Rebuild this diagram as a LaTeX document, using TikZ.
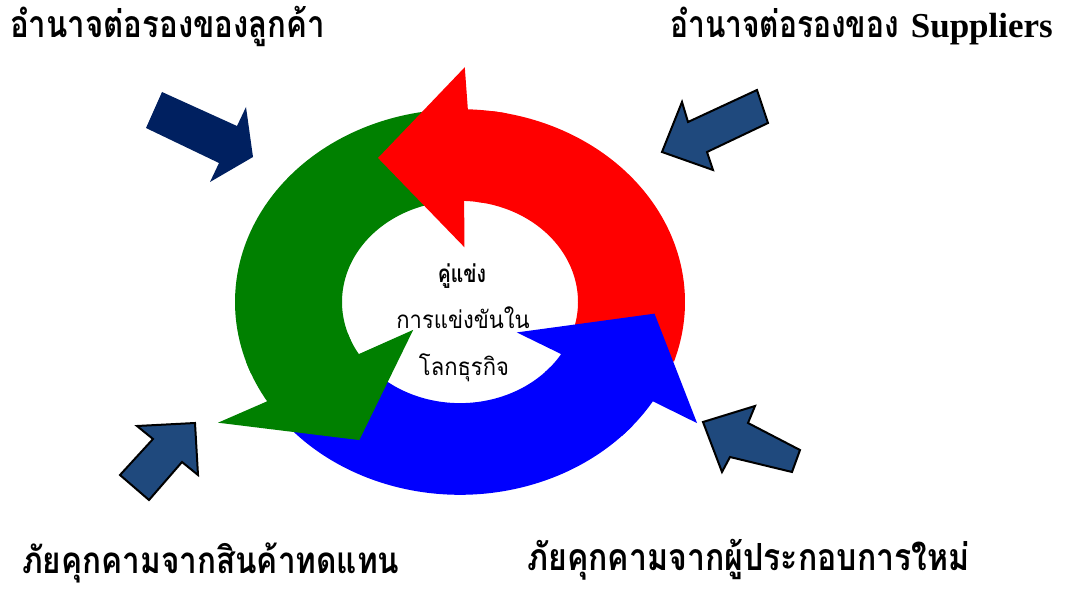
\documentclass[tikz,border=0pt]{standalone}
\usepackage{graphicx}
\usepackage{fontspec}
\newfontfamily\thaifont[Script=Thai]{Loma}
\newfontfamily\latserif{Liberation Serif}
\definecolor{navyc}{HTML}{002060}
\definecolor{sidec}{HTML}{1F497D}
\definecolor{redc}{HTML}{FF0000}
\definecolor{greenc}{HTML}{008000}
\definecolor{bluec}{HTML}{0000FF}
\newcommand\ringbody[3]{%
  \fill[#1] plot[domain=#2:#3,samples=80] ({225*cos(\x)},{225*sin(\x)})
    -- plot[domain=#3:#2,samples=80] ({118*cos(\x)},{118*sin(\x)}) -- cycle;}
\tikzset{
  sidearrow/.style={fill=sidec, draw=black, line width=2pt, line join=miter},
  navyarrow/.style={fill=navyc},
  biglabel/.style={inner sep=0pt, font=\thaifont\bfseries\fontsize{34}{34}\selectfont},
  midlabel/.style={inner sep=0pt, font=\thaifont\fontsize{22}{22}\selectfont},
}
\begin{document}
\begin{tikzpicture}[x=1pt,y=-1pt]
\useasboundingbox (0,0) rectangle (1065,591);
\fill[white] (0,0) rectangle (1065,591);
\begin{scope}[shift={(460,302)}, yscale=-0.857]
  % bodies
  \ringbody{redc}{-18}{82}
  \ringbody{greenc}{97}{202}
  \ringbody{bluec}{220}{320}
  % heads
  \fill[redc] plot[domain=78:88,samples=10] ({225*cos(\x)},{225*sin(\x)})
     -- (89:274) -- (116:187) -- (86:64) -- (88:118)
     -- plot[domain=88:78,samples=10] ({118*cos(\x)},{118*sin(\x)}) -- cycle;
  \fill[greenc] plot[domain=198:211,samples=10] ({225*cos(\x)},{225*sin(\x)})
     -- (210.2:280) -- (238:190) -- (214.8:57) -- (211:118)
     -- plot[domain=211:198,samples=10] ({118*cos(\x)},{118*sin(\x)}) -- cycle;
  \fill[bluec] plot[domain=316:329,samples=10] ({225*cos(\x)},{225*sin(\x)})
     -- (329.2:276) -- (356:195) -- (328:67) -- (329:118)
     -- plot[domain=329:316,samples=10] ({118*cos(\x)},{118*sin(\x)}) -- cycle;
\end{scope}
% outer block arrows
\fill[navyarrow] (162,92) -- (237,126) -- (246,107) -- (253,157) -- (210,182) -- (219,163) -- (146,128) -- cycle;
\draw[sidearrow] (757,90) -- (768,123) -- (707,152) -- (713,170) -- (662,152) -- (682,102) -- (688,122) -- cycle;
\draw[sidearrow] (195,423) -- (137,426) -- (153,439) -- (120,475) -- (149,500) -- (182,462) -- (198,475) -- cycle;
\draw[sidearrow] (703,422) -- (755,406) -- (748,423) -- (800,450) -- (792,472) -- (730,457) -- (722,472) -- cycle;
% labels
\node[biglabel, anchor=base west] (cust) at (10,38) {\scalebox{0.918}[1.1]{อำนาจต่อรองของลูกค้า}};
\node[biglabel, anchor=base west] (supp) at (670,38) {\scalebox{0.88}[1.1]{อำนาจต่อรองของ}\hspace{12pt}{\latserif\bfseries\fontsize{35}{35}\selectfont Suppliers}};
\node[biglabel, anchor=base west] (subs) at (22,573) {\scalebox{0.926}[1.08]{ภัยคุกคามจากสินค้าทดแทน}};
\node[biglabel, anchor=base west] (newc) at (527,570) {\scalebox{0.942}[1.1]{ภัยคุกคามจากผู้ประกอบการใหม่}};
\node[midlabel, anchor=base, font=\thaifont\bfseries\fontsize{22}{22}\selectfont] (c1) at (462,282) {\scalebox{0.88}[1.1]{คู่แข่ง}};
\node[midlabel, anchor=base] (c2) at (463,328) {\scalebox{1}[1.1]{การแข่งขันใน}};
\node[midlabel, anchor=base] (c3) at (464,375) {\scalebox{1}[1.1]{โลกธุรกิจ}};
\end{tikzpicture}
\end{document}
